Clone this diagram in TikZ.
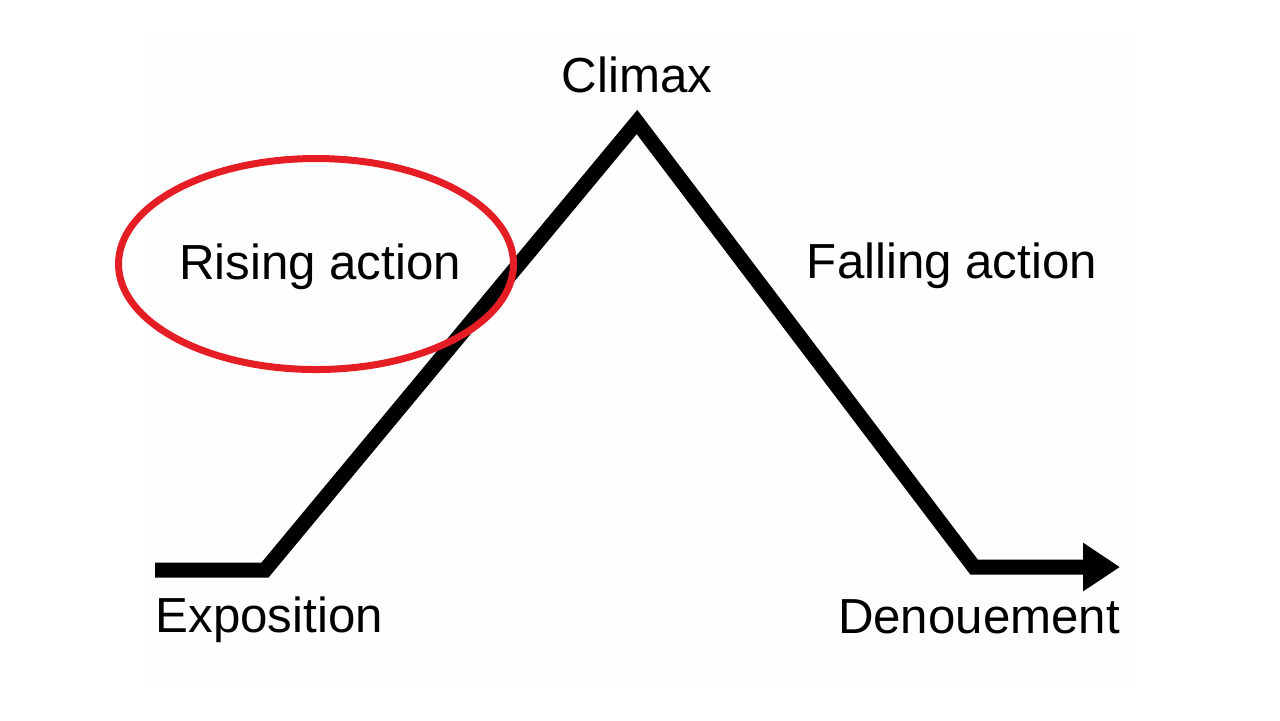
\documentclass[tikz,border=0pt]{standalone}
\usepackage{fontspec}
\setmainfont{Liberation Sans}
\usetikzlibrary{calc, positioning, arrows.meta}
\definecolor{ringRed}{RGB}{228, 30, 36}
\definecolor{paperBg}{RGB}{254, 254, 254}

\tikzset{
  plotline/.style={line width=0.15cm, line join=miter, line cap=butt},
  stage/.style={font=\fontsize{14}{16}\selectfont, anchor=base, inner sep=0pt}
}

\begin{document}
\begin{tikzpicture}[x=0.01cm, y=-0.01cm]
  \useasboundingbox (0, 0) rectangle (1280, 720);
  \fill[paperBg] (145, 31) rectangle (1134, 688);
  % Plot line
  \coordinate (start) at (155, 570);
  \coordinate (expo) at (265, 570);
  \coordinate (peak) at (637, 122);
  \coordinate (denou) at (974, 567);
  \coordinate (finish) at (1120, 567);
  \draw[plotline, -{Triangle[length=0.37cm, width=0.46cm]}]
    (start) -- (expo) -- (peak) -- (denou) -- (finish);
  % Labels
  \node[stage] (climax) at (637, 92) {Climax};
  \node[stage] (rising) at (320, 279) {Rising action};
  \node[stage] (falling) at (952, 278) {Falling action};
  \node[stage, anchor=base west] (exposition) at (155, 632) {Exposition};
  \node[stage] (denouement) at (979, 633) {Denouement};
  % Red ring
  \draw[ringRed, line width=0.07cm] (316, 264) ellipse [x radius=197.5, y radius=105.5];
\end{tikzpicture}
\end{document}
